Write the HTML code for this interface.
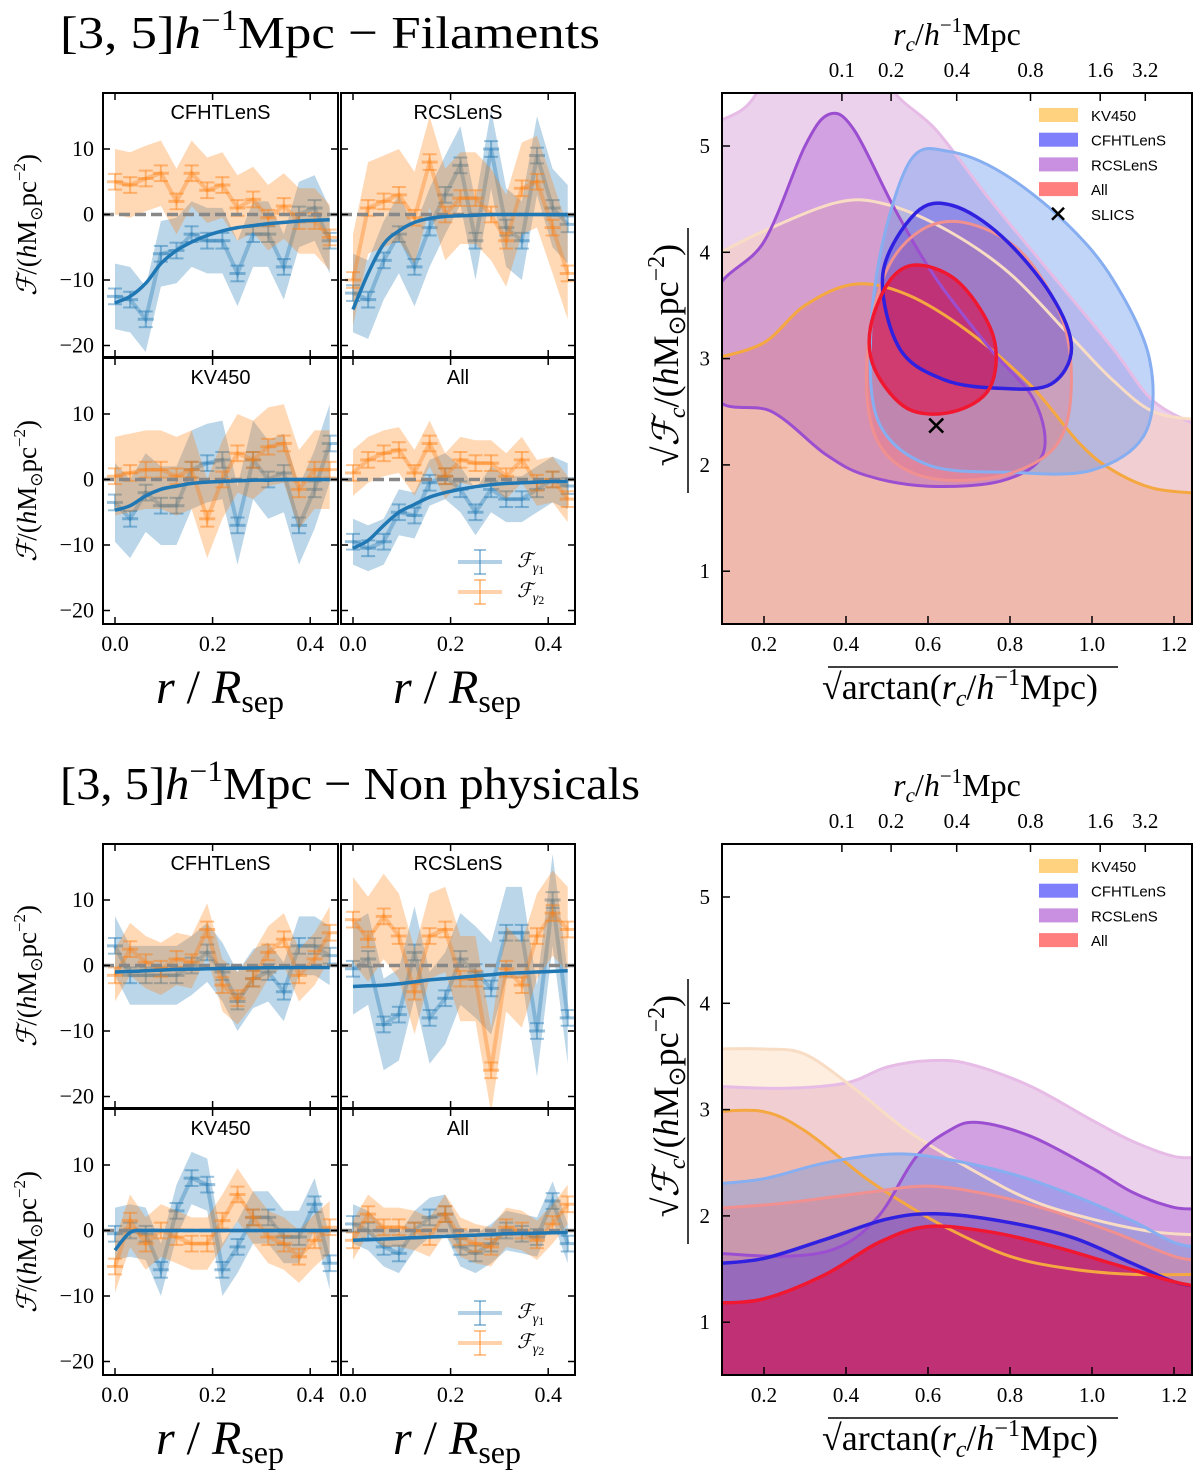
<!DOCTYPE html>
<html><head><meta charset="utf-8">
<style>
html,body{margin:0;padding:0;background:#fff;}
svg{display:block;}
.serif{font-family:"Liberation Serif",serif;}
.sans{font-family:"Liberation Sans","DejaVu Sans",sans-serif;}
</style></head>
<body>
<svg id="fig" width="1200" height="1475" viewBox="0 0 1200 1475" xmlns="http://www.w3.org/2000/svg">
<rect width="1200" height="1475" fill="#fff"/>
<text class="serif" x="60" y="48" font-size="46" textLength="540" lengthAdjust="spacingAndGlyphs">[3, 5]<tspan font-style="italic">h</tspan><tspan font-size="30" dy="-18">−1</tspan><tspan dy="18">Mpc − Filaments</tspan></text>
<text class="serif" x="60" y="799" font-size="46" textLength="580" lengthAdjust="spacingAndGlyphs">[3, 5]<tspan font-style="italic">h</tspan><tspan font-size="30" dy="-18">−1</tspan><tspan dy="18">Mpc − Non physicals</tspan></text>
<g id="layer"></g>
</svg>
<script>
// ---------- shared data ----------
const rVals = [0.000,0.031,0.063,0.094,0.126,0.157,0.189,0.220,0.251,0.283,0.314,0.346,0.377,0.409,0.440];
const yTicksLeft = [-20,-10,0,10];
const xTicksLeft = [0.0,0.2,0.4];

// Filaments
const fCfhtBlue = [-12.5,-13,-16,-6,-5.5,-3,-4,-4,-9,-3,-3,-8,0,1,-4];
const fCfhtOrange = [5,4.5,5.5,6.3,2,6.3,3.7,4.5,1,2.3,-0.5,1.3,-1,-1,-3.5];
const fCfhtFit = [-13.5,-12.5,-10.5,-7.5,-5.5,-4.2,-3.2,-2.5,-2.0,-1.7,-1.4,-1.2,-1.0,-0.9,-0.8];
const fRcsBlue = [-12,-13,-7,-3,-8,-2,3,7.5,-4,10,-2,-4,9,1,-1.5];
const fRcsOrange = [-10,1,2,3,-0.5,8,0,2.5,2.5,0,-4,4,5,-2,-9];
const fRcsFit = [-14.5,-9,-4.5,-2.5,-1.2,-0.6,-0.3,-0.2,-0.1,0,0,0,0,0,0];
const fKvBlue = [-3.5,-6,-2,-4,-4,1.5,2.5,3,-7,3,0,1,-7,-1.5,5.5];
const fKvOrange = [0.5,1,1.5,1.5,0.5,1.5,-6,0,4,3,5,5.5,-1.5,1.5,1.5];
const fKvFit = [-4.7,-4,-2.5,-1.5,-1,-0.6,-0.4,-0.3,-0.2,-0.1,-0.1,0,0,0,0];
const fAllBlue = [-9.5,-10.5,-9.5,-5,-5.5,-0.5,0.5,-1.5,-5,-1.5,-3,-3,-1.5,0,-1];
const fAllOrange = [1,3,4,4.5,1,5.5,0.5,3,2.5,2.5,0.5,3,-0.5,0,-3];
const fAllFit = [-10.5,-9.3,-7,-5,-3.8,-2.7,-2,-1.5,-1.1,-0.8,-0.6,-0.5,-0.4,-0.3,-0.3];
// Non physicals
const nCfhtBlue = [3,-1.5,-1.5,-1.5,-1.5,0,2,-1,-5.5,-2,-1,-4,3,3,1.5];
const nCfhtOrange = [-1.5,2.5,0.5,-0.5,1,0.5,5.5,-3,-5,-2,2,4,-1.5,1,5];
const nCfhtFit = [-1,-0.9,-0.8,-0.7,-0.6,-0.55,-0.5,-0.45,-0.4,-0.38,-0.35,-0.33,-0.3,-0.3,-0.3];
const nRcsBlue = [-0.5,1,-9,-7.5,2,-8,-5,1,-1,-3.5,5,5,-10,10,-8];
const nRcsOrange = [7,4,7.5,4.5,-4,4.5,5.5,-2,-2,-16,-0.5,-3,4.5,8,5.5];
const nRcsFit = [-3.2,-3.1,-3,-2.8,-2.5,-2.2,-2,-1.8,-1.6,-1.4,-1.2,-1.1,-1,-0.9,-0.8];
const nKvBlue = [-0.5,0,-0.5,-6,3,8,7,-6,-2.5,2,2,-1,-1,4,-5];
const nKvOrange = [-5.5,1.5,-2,0,-1,-2,-2,1.5,5.5,2,-1,-2,-4,-1.5,0.5];
const nKvFit = [-3,-0.3,0,0,0,0,0,0,0,0,0,0,0,0,0];
const nAllBlue = [1,0,-2.5,-3.5,0,2,2.5,-2.5,-3.5,-2,0,-0.5,-1,4.5,-2];
const nAllOrange = [-1.5,2.5,0.5,0.5,0,-1,2.5,-1,-2,-2.5,0.5,0,-1.5,1,4];
const nAllFit = [-1.5,-1.4,-1.3,-1.2,-1.1,-1.0,-0.9,-0.8,-0.7,-0.6,-0.5,-0.45,-0.4,-0.35,-0.3];
// band half-widths (std) per panel: [blue, orange]
const fBand = {CFHTLenS:[5,5], RCSLenS:[6,7], KV450:[6,6], All:[3.5,3.5]};
const nBand = {CFHTLenS:[4.5,4], RCSLenS:[7,6.5], KV450:[4,4], All:[3,3]};

// Right panels: contour boundaries in data coords
const xTicksRight = [0.2,0.4,0.6,0.8,1.0,1.2];
const yTicksRight = [1,2,3,4,5];
const topTickLabels = ["0.1","0.2","0.4","0.8","1.6","3.2"];
const topTickVals = [0.39,0.51,0.67,0.85,1.02,1.13];
const rcsOuterT = [[0.08,5.22],[0.15,5.35],[0.2,5.6],[0.3,6.2],[0.45,6.2],[0.51,5.55],[0.62,5.15],[0.75,4.5],[0.9,3.8],[1.05,3.1],[1.15,2.6],[1.27,2.35]];
const kvOuterT = [[0.08,3.97],[0.2,4.2],[0.38,4.47],[0.5,4.45],[0.65,4.2],[0.8,3.8],[0.95,3.2],[1.05,2.8],[1.15,2.5],[1.27,2.42]];
const kvInnerT = [[0.08,3.0],[0.2,3.15],[0.3,3.5],[0.42,3.7],[0.55,3.6],[0.7,3.25],[0.85,2.75],[0.97,2.2],[1.05,1.95],[1.15,1.78],[1.27,1.73]];
const rcsInnerT = [[0.08,3.6],[0.2,4.1],[0.3,5.0],[0.36,5.3],[0.42,5.15],[0.52,4.4],[0.62,3.75],[0.75,3.1],[0.86,2.6],[0.88,2.1],[0.78,1.85],[0.6,1.8],[0.45,1.9],[0.35,2.1],[0.22,2.5],[0.08,2.65]];
const cfhtOuterT = [[0.46,3.2],[0.49,4.1],[0.56,4.88],[0.65,4.95],[0.78,4.75],[0.93,4.3],[1.05,3.75],[1.14,3.0],[1.13,2.3],[1.0,1.95],[0.8,1.93],[0.6,2.0],[0.48,2.4]];
const allOuterT = [[0.45,2.9],[0.49,3.75],[0.58,4.2],[0.7,4.27],[0.84,3.95],[0.94,3.2],[0.93,2.3],[0.8,1.92],[0.6,1.88],[0.48,2.2]];
const cfhtInnerT = [[0.49,3.8],[0.57,4.37],[0.66,4.44],[0.78,4.15],[0.9,3.6],[0.95,3.1],[0.9,2.76],[0.78,2.72],[0.64,2.8],[0.53,3.1]];
const allInnerT = [[0.46,3.3],[0.51,3.75],[0.58,3.88],[0.68,3.7],[0.76,3.2],[0.75,2.72],[0.66,2.5],[0.55,2.53],[0.47,2.9]];
const slicsPoint = [0.62,2.37];
const kvOuterB = [[0.08,3.57],[0.2,3.57],[0.3,3.52],[0.42,3.2],[0.55,2.8],[0.7,2.45],[0.85,2.15],[1.0,1.97],[1.15,1.85],[1.27,1.82]];
const kvInnerB = [[0.08,2.98],[0.2,2.98],[0.3,2.8],[0.45,2.35],[0.55,2.1],[0.65,1.88],[0.8,1.62],[0.95,1.5],[1.1,1.45],[1.27,1.45]];
const rcsOuterB = [[0.08,3.22],[0.25,3.2],[0.4,3.25],[0.5,3.4],[0.6,3.46],[0.7,3.43],[0.85,3.22],[1.0,2.9],[1.1,2.7],[1.2,2.56],[1.27,2.55]];
const rcsInnerB = [[0.08,1.65],[0.25,1.62],[0.38,1.7],[0.48,2.0],[0.57,2.55],[0.65,2.8],[0.72,2.88],[0.85,2.75],[1.0,2.45],[1.1,2.22],[1.2,2.08],[1.27,2.07]];
const cfhtOuterB = [[0.08,2.3],[0.2,2.35],[0.35,2.5],[0.5,2.58],[0.62,2.55],[0.8,2.4],[0.95,2.2],[1.1,1.95],[1.2,1.75],[1.27,1.7]];
const allOuterB = [[0.08,2.07],[0.25,2.12],[0.45,2.22],[0.6,2.28],[0.75,2.2],[0.9,2.05],[1.05,1.85],[1.2,1.62],[1.27,1.58]];
const cfhtInnerB = [[0.08,1.55],[0.2,1.6],[0.35,1.78],[0.5,1.97],[0.62,2.02],[0.78,1.95],[0.95,1.8],[1.1,1.55],[1.2,1.38],[1.27,1.33]];
const allInnerB = [[0.08,1.18],[0.2,1.22],[0.35,1.45],[0.48,1.75],[0.6,1.9],[0.75,1.85],[0.9,1.72],[1.05,1.55],[1.2,1.38],[1.27,1.33]];

// ---------- helpers ----------
const NS = "http://www.w3.org/2000/svg";
const root = document.getElementById('layer');
function mk(tag, attrs, parent){
  const e = document.createElementNS(NS, tag);
  for (const k in attrs) e.setAttribute(k, attrs[k]);
  (parent||root).appendChild(e);
  return e;
}
function txt(x,y,s,size,cls,anchor,parent){
  const t = mk('text',{x:x,y:y,'font-size':size,'class':cls,'text-anchor':anchor||'middle'},parent);
  t.textContent = s;
  return t;
}
function spline(pts, closed){
  const n = pts.length;
  const g = i => closed ? pts[(i+n)%n] : pts[Math.max(0,Math.min(n-1,i))];
  let d = 'M'+pts[0][0].toFixed(1)+','+pts[0][1].toFixed(1);
  const m = closed ? n : n-1;
  for (let i=0;i<m;i++){
    const p0=g(i-1),p1=g(i),p2=g(i+1),p3=g(i+2);
    const c1=[p1[0]+(p2[0]-p0[0])/6,p1[1]+(p2[1]-p0[1])/6];
    const c2=[p2[0]-(p3[0]-p1[0])/6,p2[1]-(p3[1]-p1[1])/6];
    d+=' C'+c1[0].toFixed(1)+','+c1[1].toFixed(1)+' '+c2[0].toFixed(1)+','+c2[1].toFixed(1)+' '+p2[0].toFixed(1)+','+p2[1].toFixed(1);
  }
  if (closed) d+=' Z';
  return d;
}
let clipId = 0;
function frameTicks(g, L,T,R,B, xs, ys, xmap, ymap){
  xs.forEach(v=>{const x=xmap(v);
    const t1 = mk('line',{x1:x,y1:B,x2:x,y2:B-7,stroke:'#000','stroke-width':1.5},g);
    
    
    mk('line',{x1:x,y1:T,x2:x,y2:T+7,stroke:'#000','stroke-width':1.5},g);});
  ys.forEach(v=>{const y=ymap(v);
    const t2 = mk('line',{x1:L,y1:y,x2:L+7,y2:y,stroke:'#000','stroke-width':1.5},g);
    
    
    mk('line',{x1:R,y1:y,x2:R-7,y2:y,stroke:'#000','stroke-width':1.5},g);});
}

// ---------- left panels ----------
function leftPanel(L,T,R,B,title,blue,orange,fit,band,showY,showX){
  const g = mk('g',{});
  
  
  const id = 'c'+(clipId++);
  const cp = mk('clipPath',{id:id},g); mk('rect',{x:L,y:T,width:R-L,height:B-T},cp);
  const xmap = v => L+12+v*488;
  const ymap = v => T+121.5-v*6.55;
  const pg = mk('g',{'clip-path':'url(#'+id+')'},g);
  [[blue,'#1f77b4',band[0],'blue'],[orange,'#ff7f0e',band[1],'orange']].forEach(([vals,col,bw,nm])=>{
    let up='',dn='';
    vals.forEach((v,i)=>{up+=(i?'L':'M')+xmap(rVals[i]).toFixed(1)+','+ymap(v+bw).toFixed(1);});
    for(let i=vals.length-1;i>=0;i--) dn+='L'+xmap(rVals[i]).toFixed(1)+','+ymap(vals[i]-bw).toFixed(1);
    const b = mk('path',{d:up+dn+'Z',fill:col,'fill-opacity':0.3},pg);
    
    
    let d='';
    vals.forEach((v,i)=>{d+=(i?'L':'M')+xmap(rVals[i]).toFixed(1)+','+ymap(v).toFixed(1);});
    const ln = mk('path',{d:d,fill:'none',stroke:col,'stroke-opacity':0.35,'stroke-width':4},pg);
    
    
    vals.forEach((v,i)=>{
      const x=xmap(rVals[i]), y1=ymap(v+1.2), y2=ymap(v-1.2);
      const eb = mk('g',{stroke:col,'stroke-opacity':0.45,'stroke-width':2},pg);
      
      
      mk('line',{x1:x,y1:y1,x2:x,y2:y2},eb);
      mk('line',{x1:x-7,y1:y1,x2:x+7,y2:y1},eb);
      mk('line',{x1:x-7,y1:y2,x2:x+7,y2:y2},eb);
      mk('line',{x1:x-8,y1:ymap(v),x2:x+8,y2:ymap(v),'stroke-width':3},eb);
    });
  });
  const z = mk('line',{x1:L,y1:ymap(0),x2:R,y2:ymap(0),stroke:'#888','stroke-width':3.5,'stroke-dasharray':'11,5'},pg);
  
  
  const fp = fit.map((v,i)=>[xmap(rVals[i]),ymap(v)]);
  const f = mk('path',{d:spline(fp,false),fill:'none',stroke:'#1f77b4','stroke-width':3.5},pg);
  
  
  const fr = mk('rect',{x:L,y:T,width:R-L,height:B-T,fill:'none',stroke:'#000','stroke-width':2},g);
  
  
  frameTicks(g,L,T,R,B,xTicksLeft,yTicksLeft,xmap,ymap);
  const tt = txt((L+R)/2,T+26,title,20,'sans','middle',g);
  
  
  if(showY) yTicksLeft.forEach(v=>{const t=txt(L-9,ymap(v)+7,(v<0?'−':'')+Math.abs(v),22,'serif','end',g);
    
    });
  if(showX) xTicksLeft.forEach(v=>{const t=txt(xmap(v),B+27,v.toFixed(1),22,'serif','middle',g);
    
    });
}
function leftBlock(off, P, band){
  leftPanel(103,93+off,338,357+off,'CFHTLenS',P[0],P[1],P[2],band.CFHTLenS,true,false);
  leftPanel(341,93+off,575,357+off,'RCSLenS',P[3],P[4],P[5],band.RCSLenS,false,false);
  leftPanel(103,358+off,338,624+off,'KV450',P[6],P[7],P[8],band.KV450,true,true);
  leftPanel(341,358+off,575,624+off,'All',P[9],P[10],P[11],band.All,false,true);
  const lg = mk('g',{});
  
  
  [['#1f77b4',562+off,'1'],['#ff7f0e',592+off,'2']].forEach(([c,yy,k])=>{
    mk('line',{x1:458,y1:yy,x2:502,y2:yy,stroke:c,'stroke-opacity':0.35,'stroke-width':4},lg);
    mk('line',{x1:480,y1:yy-12,x2:480,y2:yy+12,stroke:c,'stroke-opacity':0.45,'stroke-width':2},lg);
    mk('line',{x1:474,y1:yy-12,x2:486,y2:yy-12,stroke:c,'stroke-opacity':0.45,'stroke-width':2},lg);
    mk('line',{x1:474,y1:yy+12,x2:486,y2:yy+12,stroke:c,'stroke-opacity':0.45,'stroke-width':2},lg);
    const t = mk('text',{x:517,y:yy+5,'font-size':20,'class':'serif','font-style':'italic'},lg);
    t.innerHTML = 'ℱ<tspan font-size="14" dy="5">γ</tspan><tspan font-size="12" dy="2" font-style="normal">'+k+'</tspan>';
  });
  [225,491].forEach(cy=>{
    const t = mk('text',{x:0,y:0,'font-size':27,'class':'serif','text-anchor':'middle',transform:'translate(36,'+(cy+off)+') rotate(-90)'});
    
    
    t.innerHTML = '<tspan font-style="italic">ℱ</tspan>/(<tspan font-style="italic">h</tspan>M<tspan font-size="17" dy="6">⊙</tspan><tspan dy="-6">pc</tspan><tspan font-size="17" dy="-11">−2</tspan><tspan dy="11">)</tspan>';
  });
  [220,457].forEach(cx=>{
    const t = mk('text',{x:cx,y:703+off,'font-size':48,'class':'serif','text-anchor':'middle'});
    
    
    t.innerHTML = '<tspan font-style="italic">r</tspan> / <tspan font-style="italic">R</tspan><tspan font-size="32" dy="9">sep</tspan>';
  });
}
leftBlock(0,[fCfhtBlue,fCfhtOrange,fCfhtFit,fRcsBlue,fRcsOrange,fRcsFit,fKvBlue,fKvOrange,fKvFit,fAllBlue,fAllOrange,fAllFit],fBand);
leftBlock(751,[nCfhtBlue,nCfhtOrange,nCfhtFit,nRcsBlue,nRcsOrange,nRcsFit,nKvBlue,nKvOrange,nKvFit,nAllBlue,nAllOrange,nAllFit],nBand);

// ---------- right panels ----------
function rightPanel(off, layers, showSlics){
  const L=722,R=1192,T=93+off,B=624+off;
  const xmap = v => 723+(v-0.1)*410;
  const ymap = v => T+53+(5-v)*106.3;
  const g = mk('g',{});
  
  
  const id='c'+(clipId++);
  const cp = mk('clipPath',{id:id},g); mk('rect',{x:L,y:T,width:R-L,height:B-T},cp);
  const pg = mk('g',{'clip-path':'url(#'+id+')'},g);
  const paths = layers.map(ly=>{
    const pts = ly.pts.map(p=>[xmap(p[0]),ymap(p[1])]);
    let d;
    if (ly.closed) d = spline(pts,true);
    else d = spline(pts,false)+' L'+(R+20)+','+(B+20)+' L'+(L-20)+','+(B+20)+' Z';
    return [ly,d,ly.closed?d:spline(pts,false)];
  });
  paths.forEach(([ly,d])=>{
    const p = mk('path',{d:d,fill:ly.fill,'fill-opacity':ly.op},pg);
    
    
  });
  paths.forEach(([ly,d,ld])=>{
    const p = mk('path',{d:ld,fill:'none',stroke:ly.stroke,'stroke-width':ly.sw||3},pg);
    
    
  });
  if(showSlics){
    const x=xmap(slicsPoint[0]), y=ymap(slicsPoint[1]);
    const s = mk('path',{d:`M${x-7},${y-7}L${x+7},${y+7}M${x-7},${y+7}L${x+7},${y-7}`,stroke:'#000','stroke-width':2.5},pg);
    
    
  }
  const fr = mk('rect',{x:L,y:T,width:R-L,height:B-T,fill:'none',stroke:'#000','stroke-width':2},g);
  
  
  xTicksRight.forEach(v=>{
    mk('line',{x1:xmap(v),y1:B,x2:xmap(v),y2:B-8,stroke:'#000','stroke-width':1.5},g);
    const t=txt(xmap(v),B+27,v.toFixed(1),21,'serif','middle',g);
    
    
  });
  yTicksRight.forEach(v=>{
    mk('line',{x1:L,y1:ymap(v),x2:L+8,y2:ymap(v),stroke:'#000','stroke-width':1.5},g);
    const t=txt(L-12,ymap(v)+7,String(v),21,'serif','end',g);
    
    
  });
  topTickVals.forEach((v,i)=>{
    mk('line',{x1:xmap(v),y1:T,x2:xmap(v),y2:T+8,stroke:'#000','stroke-width':1.5},g);
    const t=txt(xmap(v),T-16,topTickLabels[i],21,'serif','middle',g);
    
    
  });
  const tt = mk('text',{x:957,y:T-48,'font-size':32,'class':'serif','text-anchor':'middle'},g);
  
  
  tt.innerHTML='<tspan font-style="italic">r</tspan><tspan font-size="21" dy="6" font-style="italic">c</tspan><tspan dy="-6">/</tspan><tspan font-style="italic">h</tspan><tspan font-size="21" dy="-13">−1</tspan><tspan dy="13">Mpc</tspan>';
  const xt = mk('text',{x:960,y:B+75,'font-size':36,'class':'serif','text-anchor':'middle'},g);
  
  
  xt.innerHTML='√arctan(<tspan font-style="italic">r</tspan><tspan font-size="24" dy="7" font-style="italic">c</tspan><tspan dy="-7">/</tspan><tspan font-style="italic">h</tspan><tspan font-size="24" dy="-14">−1</tspan><tspan dy="14">Mpc)</tspan>';
  mk('line',{x1:828,y1:B+43,x2:1118,y2:B+43,stroke:'#000','stroke-width':1.5},g);
  const yt = mk('text',{x:0,y:0,'font-size':36,'class':'serif','text-anchor':'middle',transform:`translate(678,${T+262}) rotate(-90)`},g);
  
  
  yt.innerHTML='√<tspan font-style="italic">ℱ</tspan><tspan font-size="24" dy="7" font-style="italic">c</tspan><tspan dy="-7">/(</tspan><tspan font-style="italic">h</tspan>M<tspan font-size="24" dy="7">⊙</tspan><tspan dy="-7">pc</tspan><tspan font-size="24" dy="-14">−2</tspan><tspan dy="14">)</tspan>';
  mk('line',{x1:688,y1:T+135,x2:688,y2:T+400,stroke:'#000','stroke-width':1.5},g);
  const names = showSlics ? ['KV450','CFHTLenS','RCSLenS','All','SLICS'] : ['KV450','CFHTLenS','RCSLenS','All'];
  const cols = ['#ffd27f','#7f7ffb','#c98fe0','#ff7f7f'];
  const lg = mk('g',{},g);
  
  
  names.forEach((n,i)=>{
    const y = T+22+i*24.7;
    if(n==='SLICS'){
      mk('path',{d:`M${1052},${y-6}L${1064},${y+6}M${1052},${y+6}L${1064},${y-6}`,stroke:'#000','stroke-width':2.5},lg);
    } else mk('rect',{x:1039,y:y-7,width:39,height:14,fill:cols[i]},lg);
    const t = txt(1091,y+6,n,15,'sans','start',lg);
    
    
  });
}
const S = {
  rcsOuter:{fill:'#d9a3dc',op:0.5,stroke:'#e6bce6',sw:3},
  kvOuter:{fill:'#fac896',op:0.3,stroke:'#f8dcc4',sw:3},
  kvInner:{fill:'#f08c5a',op:0.3,stroke:'#f5a840',sw:3},
  rcsInner:{fill:'#9632c8',op:0.3,stroke:'#9b4fd0',sw:3},
  cfhtOuter:{fill:'#6496f0',op:0.4,stroke:'#86aef0',sw:3},
  allOuter:{fill:'#fa6e6e',op:0.3,stroke:'#f09090',sw:3},
  cfhtInner:{fill:'#3c28dc',op:0.3,stroke:'#3020e0',sw:3.5},
  allInner:{fill:'#dc0a46',op:0.6,stroke:'#f01830',sw:3.5}
};
function L_(name,pts,closed){return Object.assign({name:name,pts:pts,closed:closed},S[name]);}
rightPanel(0,[L_('rcsOuter',rcsOuterT,false),L_('kvOuter',kvOuterT,false),L_('kvInner',kvInnerT,false),L_('rcsInner',rcsInnerT,true),L_('cfhtOuter',cfhtOuterT,true),L_('allOuter',allOuterT,true),L_('cfhtInner',cfhtInnerT,true),L_('allInner',allInnerT,true)],true);
rightPanel(751,[L_('rcsOuter',rcsOuterB,false),L_('kvOuter',kvOuterB,false),L_('kvInner',kvInnerB,false),L_('rcsInner',rcsInnerB,false),L_('cfhtOuter',cfhtOuterB,false),L_('allOuter',allOuterB,false),L_('cfhtInner',cfhtInnerB,false),L_('allInner',allInnerB,false)],false);
</script>
</body></html>
